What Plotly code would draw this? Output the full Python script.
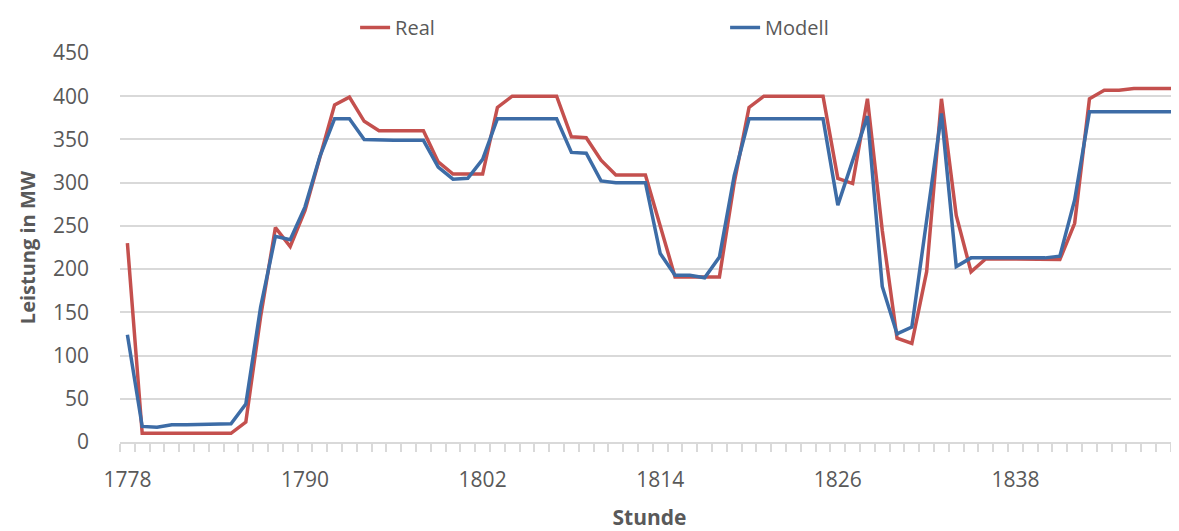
import plotly.graph_objects as go

hours = list(range(1778, 1850))
real = [230, 10, 10, 10, 10, 10, 10, 10, 23, 145, 248, 226, 268, 328, 390, 399,
        371, 360, 360, 360, 360, 324, 310, 310, 310, 387, 400, 400, 400, 400,
        353, 352, 326, 309, 309, 309, 250, 191, 191, 191, 191, 300, 387, 400,
        400, 400, 400, 400, 305, 299, 397, 245, 120, 114, 197, 397, 262, 197,
        212, 212, 212, 212, 211, 211, 253, 397, 407, 407, 409, 409, 409, 409]
modell = [124, 18, 17, 20, 20, 20, 20, 21, 44, 156, 238, 234, 272, 330, 374, 374,
          350, 349, 349, 349, 349, 318, 304, 305, 327, 374, 374, 374, 374, 374,
          335, 334, 302, 300, 300, 300, 218, 193, 193, 190, 214, 308, 374, 374,
          374, 374, 374, 374, 274, 326, 377, 180, 125, 133, 260, 380, 203, 213,
          213, 213, 213, 213, 213, 215, 280, 382, 382, 382, 382, 382, 382, 382]
x_ticks = [1778, 1790, 1802, 1814, 1826, 1838]
y_ticks = [0, 50, 100, 150, 200, 250, 300, 350, 400, 450]

RED = "#C4504E"
BLUE = "#3D6CA6"
GRID = "#D9D9D9"
TXT = "#595959"
FONT = "Open Sans"

fig = go.Figure()
fig.add_trace(go.Scatter(x=hours, y=real, name="Real", mode="lines",
                         line=dict(color=RED, width=3.5)))
fig.add_trace(go.Scatter(x=hours, y=modell, name="Modell", mode="lines",
                         line=dict(color=BLUE, width=3.5)))

# page body has an 8px margin, so the figure is sized 8px smaller on each axis
fig.update_layout(
    width=1171, height=523,
    margin=dict(l=112, r=0, t=45, b=89, autoexpand=False),
    paper_bgcolor="white", plot_bgcolor="white",
    font=dict(family=FONT, size=20, color=TXT),
    showlegend=True,
    legend=dict(orientation="h", x=0.222, xanchor="left",
                y=1.0, yanchor="top", yref="container",
                entrywidth=325, entrywidthmode="pixels",
                font=dict(family=FONT, size=20, color=TXT),
                bgcolor="rgba(0,0,0,0)"),
)

fig.update_xaxes(
    range=[1777.5, 1849.05],
    tickmode="array", tickvals=x_ticks, ticktext=[str(v) for v in x_ticks],
    ticks="", ticklabelstandoff=18,
    showgrid=False, zeroline=False, automargin=False,
    showline=True, linecolor=GRID, linewidth=2,
    minor=dict(ticks="outside", tickmode="array",
               tickvals=[h - 0.5 for h in hours] + [hours[-1] + 0.5],
               ticklen=8, tickcolor=GRID, tickwidth=1.5, showgrid=False),
    tickfont=dict(family=FONT, size=21, color=TXT),
    title=dict(text="<b>Stunde</b>", standoff=21,
               font=dict(family=FONT, size=21, color=TXT)),
)
fig.update_yaxes(
    range=[0, 450], tickmode="array", tickvals=y_ticks,
    ticks="", ticklabelstandoff=30, automargin=False,
    showgrid=True, gridcolor=GRID, gridwidth=2,
    zeroline=False, showline=False,
    tickfont=dict(family=FONT, size=21, color=TXT),
    title=dict(text="<b>Leistung in MW</b>", standoff=11,
               font=dict(family=FONT, size=20, color=TXT)),
)

fig.write_html("out.html")
